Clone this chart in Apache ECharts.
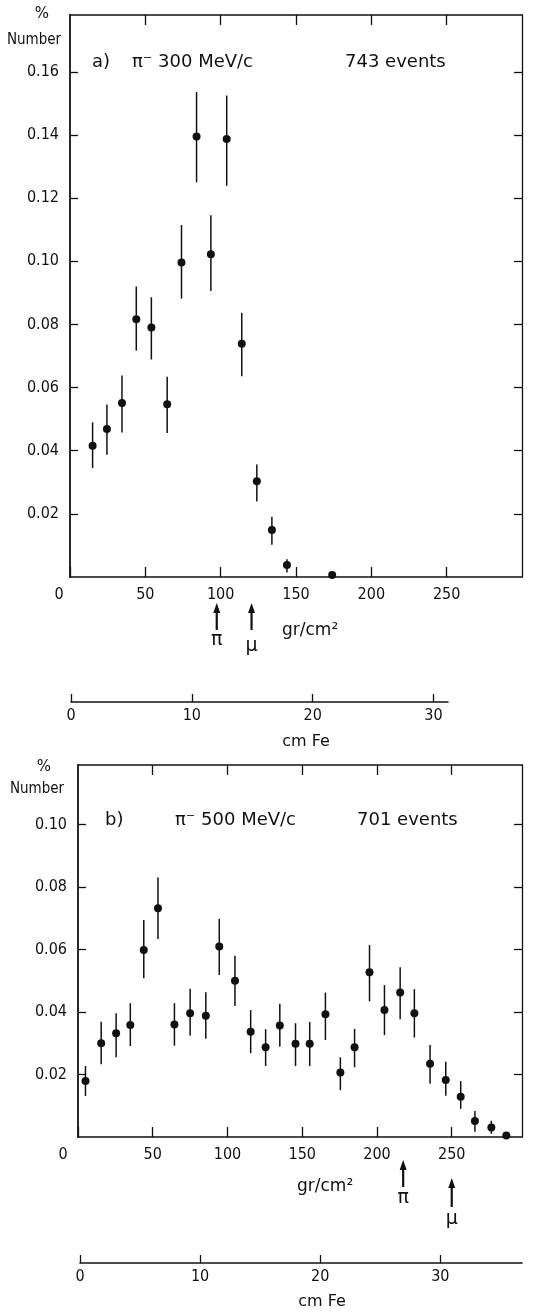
<!DOCTYPE html>
<html>
<head>
<meta charset="utf-8">
<script src="https://cdn.jsdelivr.net/npm/echarts@6/dist/echarts.min.js"></script>
<style>
html, body { margin: 0; padding: 0; background: #fff; }
#main { width: 547px; height: 1313px; }
</style>
</head>
<body>
<div id="main"></div>
<script>
/*
 * Range distributions of pi- in iron, two momenta
 */

// panel a) pi- 300 MeV/c
var xA  = [15, 24.5, 34.5, 44, 54, 64.5, 74, 84, 93.5, 104, 114, 124, 134, 144, 174];
var yA  = [0.0416, 0.0469, 0.0551, 0.0816, 0.0790, 0.0547, 0.0996, 0.1395, 0.1022, 0.1387, 0.0739, 0.0303, 0.0149, 0.0038, 0.0006];
var loA = [0.0345, 0.0387, 0.0458, 0.0717, 0.0689, 0.0456, 0.0882, 0.1250, 0.0906, 0.1239, 0.0636, 0.0239, 0.0102, 0.0014, 0.0006];
var hiA = [0.0490, 0.0546, 0.0638, 0.0920, 0.0886, 0.0634, 0.1115, 0.1536, 0.1146, 0.1525, 0.0837, 0.0356, 0.0191, 0.0056, 0.0006];

// panel b) pi- 500 MeV/c
var xB  = [5, 15.5, 25.5, 35, 44, 53.5, 64.5, 75, 85.5, 94.5, 105, 115.5, 125.5, 135, 145.5, 155, 165.5, 175.5, 185, 195, 205, 215.5, 225, 235.5, 246, 256, 265.5, 276.5, 286.5];
var yB  = [0.0179, 0.0300, 0.0332, 0.0358, 0.0598, 0.0732, 0.0360, 0.0396, 0.0388, 0.0609, 0.0500, 0.0337, 0.0287, 0.0357, 0.0298, 0.0298, 0.0393, 0.0206, 0.0287, 0.0527, 0.0406, 0.0462, 0.0396, 0.0234, 0.0182, 0.0129, 0.0051, 0.0030, 0.0005];
var loB = [0.0131, 0.0233, 0.0255, 0.0291, 0.0508, 0.0633, 0.0292, 0.0324, 0.0314, 0.0518, 0.0419, 0.0268, 0.0227, 0.0289, 0.0227, 0.0227, 0.0310, 0.0150, 0.0223, 0.0434, 0.0326, 0.0377, 0.0318, 0.0170, 0.0132, 0.0090, 0.0017, 0.0010, 0.0005];
var hiB = [0.0227, 0.0369, 0.0396, 0.0428, 0.0694, 0.0830, 0.0428, 0.0474, 0.0463, 0.0698, 0.0580, 0.0406, 0.0345, 0.0426, 0.0364, 0.0368, 0.0462, 0.0255, 0.0346, 0.0614, 0.0486, 0.0543, 0.0473, 0.0294, 0.0241, 0.0179, 0.0083, 0.0052, 0.0005];

// range arrows (gr/cm2)
var arrowNames = ['π', 'μ'];
var arrowXA = [97.4, 120.5];
var arrowXB = [217.5, 250];

// tick values
var grTicks    = [0, 50, 100, 150, 200, 250];
var grTopTicks = [50, 100, 150, 200, 250];
var cmTicks    = [0, 10, 20, 30];
var yTicksA    = [0.02, 0.04, 0.06, 0.08, 0.10, 0.12, 0.14, 0.16];
var yTicksB    = [0.02, 0.04, 0.06, 0.08, 0.10];

var INK = '#111';
var TICK_FONT = "'DejaVu Sans Condensed', 'DejaVu Sans', sans-serif";
var TEXT_FONT = "'DejaVu Sans', sans-serif";

// arrow layout: [tip, tail, label] offsets below the x axis, px
var arrowLayoutA = [[26, 53, 63], [26, 53, 69]];
var arrowLayoutB = [[23, 50, 61], [41, 70, 82]];

function zip() {
    var cols = arguments, out = [];
    for (var i = 0; i < cols[0].length; i++) {
        var row = [];
        for (var j = 0; j < cols.length; j++) row.push(cols[j][i]);
        out.push(row);
    }
    return out;
}

function lineStyle(w) {
    return {color: INK, width: w};
}

function bottomAxis(grid, max, ticks, zeroPad) {
    return {
        gridIndex: grid, type: 'value', position: 'bottom', min: 0, max: max, interval: 50,
        axisLine: {show: true, onZero: false, lineStyle: lineStyle(1.6)},
        axisTick: {show: true, inside: true, length: 10, lineStyle: lineStyle(1.3), customValues: ticks},
        axisLabel: {
            show: true, margin: 10, color: INK, fontSize: 16, fontFamily: TICK_FONT, customValues: ticks,
            formatter: function(v) { return v === 0 ? '{z|0}' : String(v); },
            rich: {z: {padding: [0, zeroPad, 0, 0], color: INK, fontSize: 16, fontFamily: TICK_FONT}}
        },
        splitLine: {show: false}
    };
}

function topAxis(grid, max) {
    return {
        gridIndex: grid, type: 'value', position: 'top', min: 0, max: max, interval: 50,
        axisLine: {show: true, onZero: false, lineStyle: lineStyle(1.6)},
        axisTick: {show: true, inside: true, length: 10, lineStyle: lineStyle(1.3), customValues: grTopTicks},
        axisLabel: {show: false},
        splitLine: {show: false}
    };
}

function cmAxis(grid, max) {
    return {
        gridIndex: grid, type: 'value', position: 'bottom', min: 0, max: max, interval: 10,
        axisLine: {show: true, onZero: false, lineStyle: lineStyle(1.6)},
        axisTick: {show: true, inside: true, length: 8, lineStyle: lineStyle(1.3), customValues: cmTicks},
        axisLabel: {show: true, margin: 6, color: INK, fontSize: 16, fontFamily: TICK_FONT,
                    customValues: cmTicks},
        splitLine: {show: false}
    };
}

function leftAxis(grid, max, ticks) {
    return {
        gridIndex: grid, type: 'value', position: 'left', min: 0, max: max, interval: 0.02,
        axisLine: {show: true, onZero: false, lineStyle: lineStyle(1.8)},
        axisTick: {show: true, inside: true, length: 8, lineStyle: lineStyle(1.3), customValues: ticks},
        axisLabel: {
            show: true, margin: 11, color: INK, fontSize: 16, fontFamily: TICK_FONT, customValues: ticks,
            formatter: function(v) { return v > 0.001 ? v.toFixed(2) : ''; }
        },
        splitLine: {show: false}
    };
}

function rightAxis(grid, max, ticks) {
    return {
        gridIndex: grid, type: 'value', position: 'right', min: 0, max: max, interval: 0.02,
        axisLine: {show: true, onZero: false, lineStyle: lineStyle(1.3)},
        axisTick: {show: true, inside: true, length: 8, lineStyle: lineStyle(1.3), customValues: ticks},
        axisLabel: {show: false},
        splitLine: {show: false}
    };
}

function hiddenAxis(grid) {
    return {gridIndex: grid, type: 'value', show: false, min: 0, max: 1};
}

function errRender(params, api) {
    var p1 = api.coord([api.value(0), api.value(1)]);
    var p2 = api.coord([api.value(0), api.value(2)]);
    return {
        type: 'line',
        shape: {x1: p1[0], y1: p1[1], x2: p2[0], y2: p2[1]},
        style: {stroke: INK, lineWidth: 1.5}
    };
}

function arrowRender(layout) {
    return function(params, api) {
        var i = params.dataIndex;
        var base = api.coord([api.value(0), 0]);
        var off = layout[i];
        var x = base[0], tip = base[1] + off[0], tail = base[1] + off[1];
        return {
            type: 'group',
            children: [
                {type: 'line', shape: {x1: x, y1: tip + 6, x2: x, y2: tail}, style: {stroke: INK, lineWidth: 2.2}},
                {type: 'polygon', shape: {points: [[x, tip], [x - 3.5, tip + 10], [x + 3.5, tip + 10]]}, style: {fill: INK}},
                {type: 'text', style: {
                    text: arrowNames[i], x: x, y: base[1] + off[2], align: 'center', verticalAlign: 'middle',
                    fill: INK, fontSize: 19, fontFamily: TEXT_FONT
                }}
            ]
        };
    };
}

function txt(s, x, y, size, align, font) {
    return {
        type: 'text', x: x, y: y,
        style: {text: s, fill: INK, fontSize: size, fontFamily: font || TEXT_FONT,
                align: align || 'left', verticalAlign: 'middle'}
    };
}

var chart = echarts.init(document.getElementById('main'), null, {renderer: 'canvas'});

var option = {
    backgroundColor: '#fff',
    animation: false,
    grid: [
        {left: 70, top: 15, width: 452, height: 562},
        {left: 71, top: 701, width: 377, height: 1},
        {left: 78, top: 765, width: 444, height: 372},
        {left: 80, top: 1262, width: 442, height: 1}
    ],
    xAxis: [
        bottomAxis(0, 300, grTicks, 22),
        topAxis(0, 300),
        cmAxis(1, 31.2),
        bottomAxis(2, 297, grTicks, 30),
        topAxis(2, 297),
        cmAxis(3, 36.8)
    ],
    yAxis: [
        leftAxis(0, 0.178, yTicksA),
        rightAxis(0, 0.178, yTicksA),
        hiddenAxis(1),
        leftAxis(2, 0.119, yTicksB),
        rightAxis(2, 0.119, yTicksB),
        hiddenAxis(3)
    ],
    series: [
        {type: 'custom', xAxisIndex: 0, yAxisIndex: 0, data: zip(xA, loA, hiA), renderItem: errRender, silent: true},
        {type: 'scatter', xAxisIndex: 0, yAxisIndex: 0, data: zip(xA, yA), symbolSize: 8,
         itemStyle: {color: INK, opacity: 1}, silent: true},
        {type: 'custom', xAxisIndex: 0, yAxisIndex: 0, data: zip(arrowXA), clip: false,
         renderItem: arrowRender(arrowLayoutA), silent: true},

        {type: 'custom', xAxisIndex: 3, yAxisIndex: 3, data: zip(xB, loB, hiB), renderItem: errRender, silent: true},
        {type: 'scatter', xAxisIndex: 3, yAxisIndex: 3, data: zip(xB, yB), symbolSize: 8,
         itemStyle: {color: INK, opacity: 1}, silent: true},
        {type: 'custom', xAxisIndex: 3, yAxisIndex: 3, data: zip(arrowXB), clip: false,
         renderItem: arrowRender(arrowLayoutB), silent: true}
    ],
    graphic: [
        // panel a
        txt('%', 42, 14, 15, 'center'),
        txt('Number', 34, 40, 15, 'center', TICK_FONT),
        txt('a)', 92, 62, 18),
        txt('π⁻ 300 MeV/c', 132, 62, 18),
        txt('743 events', 345, 62, 18),
        txt('gr/cm²', 282, 631, 17),
        txt('cm Fe', 306, 742, 16, 'center'),
        // panel b
        txt('%', 44, 767, 15, 'center'),
        txt('Number', 37, 789, 15, 'center', TICK_FONT),
        txt('b)', 105, 820, 18),
        txt('π⁻ 500 MeV/c', 175, 820, 18),
        txt('701 events', 357, 820, 18),
        txt('gr/cm²', 297, 1187, 17),
        txt('cm Fe', 322, 1302, 16, 'center')
    ]
};

chart.setOption(option);
</script>
</body>
</html>
